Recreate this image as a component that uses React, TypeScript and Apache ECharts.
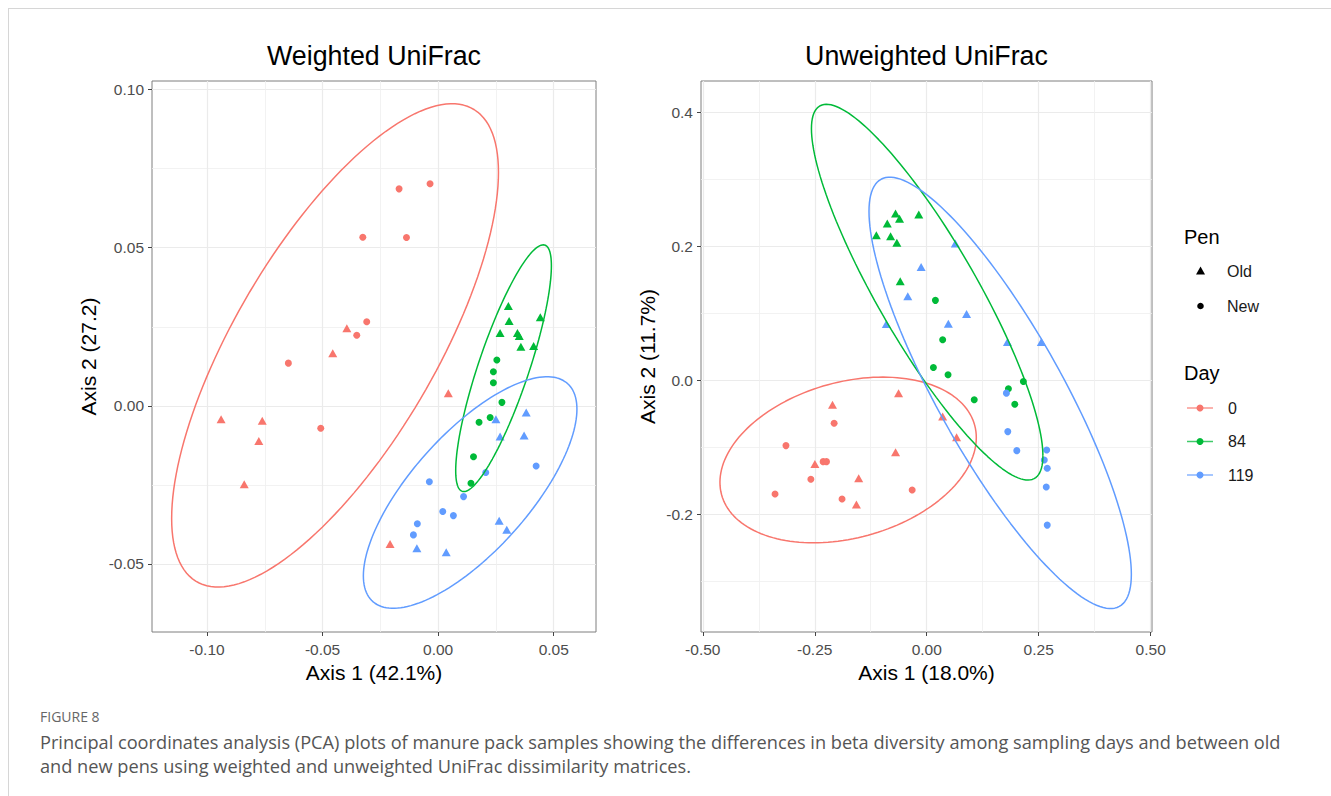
import React, { useEffect, useRef } from "react";
import * as echarts from "echarts";

// ---------- Data ----------
const dayLabels = ["0", "84", "119"];
const penLabels = ["Old", "New"];
const dayColors = ["#F8766D", "#00BA38", "#619CFF"];

// Weighted UniFrac points [Axis1, Axis2]
const w0Old = [[-0.0395, 0.0245], [-0.0456, 0.0166], [-0.0939, -0.0042], [-0.0761, -0.0047], [-0.0776, -0.0111], [-0.0839, -0.0248], [0.0044, 0.004], [-0.0208, -0.0437]];
const w0New = [[-0.0169, 0.0686], [-0.0035, 0.0702], [-0.0326, 0.0533], [-0.0137, 0.0532], [-0.0309, 0.0266], [-0.0352, 0.0223], [-0.0648, 0.0135], [-0.0508, -0.0071]];
const w84Old = [[0.0304, 0.0316], [0.0442, 0.028], [0.0307, 0.0268], [0.0268, 0.023], [0.0343, 0.023], [0.0351, 0.0221], [0.0358, 0.0187], [0.0413, 0.0189]];
const w84New = [[0.0254, 0.0145], [0.0239, 0.0108], [0.0239, 0.0073], [0.0276, 0.0011], [0.0225, -0.0037], [0.0177, -0.0052], [0.0153, -0.0161], [0.0142, -0.0245]];
const w119Old = [[0.025, -0.0042], [0.0381, -0.0021], [0.0268, -0.0097], [0.0372, -0.0094], [0.0264, -0.0363], [0.0297, -0.0392], [-0.0092, -0.045], [0.0035, -0.0463]];
const w119New = [[0.0424, -0.019], [0.0206, -0.0211], [-0.0038, -0.024], [0.011, -0.0287], [0.002, -0.0334], [0.0066, -0.0347], [-0.009, -0.0373], [-0.0107, -0.0408]];

// Unweighted UniFrac points [Axis1, Axis2]
const u0Old = [[-0.2104, -0.0366], [-0.0629, -0.0191], [-0.2498, -0.1248], [-0.1519, -0.1462], [-0.157, -0.1851], [-0.0696, -0.1073], [0.0356, -0.0541], [0.0667, -0.0849]];
const u0New = [[-0.2068, -0.064], [-0.3143, -0.0974], [-0.2313, -0.1213], [-0.2238, -0.1213], [-0.2587, -0.1477], [-0.3387, -0.1697], [-0.1891, -0.1771], [-0.0325, -0.1637]];
const u84Old = [[-0.0696, 0.2489], [-0.0607, 0.241], [-0.0178, 0.2474], [-0.0881, 0.2339], [-0.1125, 0.2165], [-0.0807, 0.215], [-0.0667, 0.2051], [-0.0592, 0.1477]];
const u84New = [[0.0194, 0.1193], [0.0356, 0.0605], [0.0149, 0.0191], [0.0476, 0.0082], [0.1061, -0.0291], [0.2158, -0.0018], [0.1824, -0.0127], [0.1966, -0.0356]];
const u119Old = [[0.0638, 0.204], [-0.0125, 0.1692], [-0.0423, 0.1253], [-0.0903, 0.084], [0.089, 0.099], [0.0483, 0.0845], [0.1802, 0.0571], [0.2558, 0.0571]];
const u119New = [[0.1779, -0.0191], [0.181, -0.0765], [0.2011, -0.1049], [0.2678, -0.1039], [0.2625, -0.1188], [0.2691, -0.1312], [0.2669, -0.1592], [0.2691, -0.216]];

// 95% ellipses: [centerX, centerY, halfWidth, halfHeight, correlation]
const wEllipse0 = [-0.0446, 0.0191, 0.0707, 0.0764, 0.716];
const wEllipse84 = [0.0283, 0.0119, 0.0207, 0.039, 0.83];
const wEllipse119 = [0.01385, -0.0274, 0.0462, 0.0366, 0.72];
const uEllipse0 = [-0.1755, -0.1188, 0.2862, 0.1236, 0.27];
const uEllipse84 = [0.001, 0.1315, 0.2584, 0.2803, -0.87];
const uEllipse119 = [0.164, -0.0187, 0.2929, 0.3218, -0.841];

// Axis ticks
const wXMajor = [-0.1, -0.05, 0, 0.05];
const wXMinor = [-0.075, -0.025, 0.025];
const wYMajor = [-0.05, 0, 0.05, 0.1];
const wYMinor = [-0.025, 0.025, 0.075];
const uXMajor = [-0.5, -0.25, 0, 0.25, 0.5];
const uXMinor = [-0.375, -0.125, 0.125, 0.375];
const uYMajor = [-0.2, 0, 0.2, 0.4];
const uYMinor = [-0.3, -0.1, 0.1, 0.3];

const titles = ["Weighted UniFrac", "Unweighted UniFrac"];
const xNames = ["Axis 1 (42.1%)", "Axis 1 (18.0%)"];
const yNames = ["Axis 2 (27.2)", "Axis 2 (11.7%)"];
const figureLabel = "FIGURE 8";
const captionLines = [
  "Principal coordinates analysis (PCA) plots of manure pack samples showing the differences in beta diversity among sampling days and between old",
  "and new pens using weighted and unweighted UniFrac dissimilarity matrices.",
];

// ---------- Helpers ----------
const FONT = "'Liberation Sans', Arial, Helvetica, sans-serif";
const CAPFONT = "'Open Sans', 'Noto Sans', sans-serif";

function ellipsePoints(p: number[]) {
  const [cx, cy, a, b, r] = p;
  const s = Math.sqrt(1 - r * r);
  const pts: number[][] = [];
  const n = 160;
  for (let k = 0; k <= n; k++) {
    const t = (2 * Math.PI * k) / n;
    pts.push([cx + a * Math.cos(t), cy + b * (r * Math.cos(t) + s * Math.sin(t))]);
  }
  return pts;
}

const GRIDS = [
  { left: 152, top: 81, width: 444, height: 551 },
  { left: 701, top: 81, width: 451, height: 551 },
];

const hiddenLine = { show: false, onZero: false };

function majorX(grid: number, min: number, max: number, ticks: number[], dec: number, name: string) {
  return {
    type: "value", gridIndex: grid, min, max, position: "bottom",
    name, nameLocation: "middle", nameGap: 29,
    nameTextStyle: { fontSize: 21, color: "#000", fontFamily: FONT },
    axisLine: hiddenLine,
    axisTick: { show: true, customValues: ticks, length: 4, lineStyle: { color: "#444", width: 1 } },
    axisLabel: { customValues: ticks, formatter: (v: number) => v.toFixed(dec), margin: 9, fontSize: 15.5, color: "#4D4D4D", fontFamily: FONT },
    splitLine: { show: true, lineStyle: { color: "#EBEBEB", width: 1.2 } },
  };
}
function minorX(grid: number, min: number, max: number, ticks: number[]) {
  return {
    type: "value", gridIndex: grid, min, max, position: "top",
    axisLine: hiddenLine,
    axisTick: { show: false, customValues: ticks },
    axisLabel: { show: false, customValues: ticks },
    splitLine: { show: true, lineStyle: { color: "#EFEFEF", width: 0.8 } },
  };
}
function majorY(grid: number, min: number, max: number, ticks: number[], dec: number, name: string, gap: number) {
  return {
    type: "value", gridIndex: grid, min, max, position: "left",
    name, nameLocation: "middle", nameGap: gap,
    nameTextStyle: { fontSize: 21, color: "#000", fontFamily: FONT },
    axisLine: hiddenLine,
    axisTick: { show: true, customValues: ticks, length: 4, lineStyle: { color: "#444", width: 1 } },
    axisLabel: { customValues: ticks, formatter: (v: number) => v.toFixed(dec), margin: 8, fontSize: 15.5, color: "#4D4D4D", fontFamily: FONT },
    splitLine: { show: true, lineStyle: { color: "#EBEBEB", width: 1.2 } },
  };
}
function minorY(grid: number, min: number, max: number, ticks: number[]) {
  return {
    type: "value", gridIndex: grid, min, max, position: "right",
    axisLine: hiddenLine,
    axisTick: { show: false, customValues: ticks },
    axisLabel: { show: false, customValues: ticks },
    splitLine: { show: true, lineStyle: { color: "#EFEFEF", width: 0.8 } },
  };
}

export default function App() {
  const ref = useRef<HTMLDivElement>(null);

  useEffect(() => {
    if (!ref.current) return;
    const chart = echarts.init(ref.current, null, { renderer: "svg" });

    const panels = [
      { axis: 0, old: [w0Old, w84Old, w119Old], neu: [w0New, w84New, w119New], ell: [wEllipse0, wEllipse84, wEllipse119] },
      { axis: 2, old: [u0Old, u84Old, u119Old], neu: [u0New, u84New, u119New], ell: [uEllipse0, uEllipse84, uEllipse119] },
    ];

    const series: any[] = [];
    panels.forEach((p, pi) => {
      dayLabels.forEach((day, di) => {
        series.push({
          type: "scatter", name: `${titles[pi]} Day ${day} ${penLabels[0]}`,
          xAxisIndex: p.axis, yAxisIndex: p.axis, data: p.old[di],
          symbol: "triangle", symbolSize: [9, 8], itemStyle: { color: dayColors[di], opacity: 1 }, z: 3,
        });
        series.push({
          type: "scatter", name: `${titles[pi]} Day ${day} ${penLabels[1]}`,
          xAxisIndex: p.axis, yAxisIndex: p.axis, data: p.neu[di],
          symbol: "circle", symbolSize: 7, itemStyle: { color: dayColors[di], opacity: 1 }, z: 3,
        });
        series.push({
          type: "line", name: `${titles[pi]} Day ${day} ellipse`,
          xAxisIndex: p.axis, yAxisIndex: p.axis, data: ellipsePoints(p.ell[di]),
          showSymbol: false, symbol: "none", smooth: false, silent: true,
          lineStyle: { color: dayColors[di], width: 1.5 }, z: 4,
        });
      });
    });

    const graphic: any[] = [];
    // frame
    graphic.push({ type: "line", shape: { x1: 8, y1: 8.5, x2: 1331, y2: 8.5 }, style: { stroke: "#D6D6D6", lineWidth: 1 } });
    graphic.push({ type: "line", shape: { x1: 8.5, y1: 8, x2: 8.5, y2: 796 }, style: { stroke: "#D6D6D6", lineWidth: 1 } });
    // titles
    GRIDS.forEach((g, i) => {
      graphic.push({
        type: "text", x: g.left + g.width / 2, y: 56,
        style: { text: titles[i], fontSize: 26.8, fill: "#000", fontFamily: FONT, textAlign: "center", textVerticalAlign: "middle" },
      });
    });
    // legend: Pen
    const lx = 1184;
    graphic.push({ type: "text", x: lx, y: 237, style: { text: "Pen", fontSize: 20, fill: "#000", fontFamily: FONT, textVerticalAlign: "middle" } });
    penLabels.forEach((lab, i) => {
      const cy = 271 + i * 35;
      if (i === 0) {
        graphic.push({ type: "polygon", shape: { points: [[1200.5, cy - 4.5], [1205, cy + 3.5], [1196, cy + 3.5]] }, style: { fill: "#000" } });
      } else {
        graphic.push({ type: "circle", shape: { cx: 1200.5, cy, r: 3.3 }, style: { fill: "#000" } });
      }
      graphic.push({ type: "text", x: 1227, y: cy, style: { text: lab, fontSize: 16, fill: "#1A1A1A", fontFamily: FONT, textVerticalAlign: "middle" } });
    });
    // legend: Day
    graphic.push({ type: "text", x: lx, y: 373, style: { text: "Day", fontSize: 20, fill: "#000", fontFamily: FONT, textVerticalAlign: "middle" } });
    dayLabels.forEach((lab, i) => {
      const cy = 408 + i * 33.5;
      graphic.push({ type: "line", shape: { x1: 1187, y1: cy, x2: 1213, y2: cy }, style: { stroke: dayColors[i], lineWidth: 1.5, opacity: 0.75 } });
      graphic.push({ type: "circle", shape: { cx: 1200, cy, r: 3.5 }, style: { fill: dayColors[i] } });
      graphic.push({ type: "text", x: 1228, y: cy, style: { text: lab, fontSize: 16, fill: "#1A1A1A", fontFamily: FONT, textVerticalAlign: "middle" } });
    });
    // caption
    graphic.push({ type: "text", x: 40, y: 716, style: { text: figureLabel, fontSize: 14, fill: "#666", fontFamily: CAPFONT, textVerticalAlign: "middle" } });
    captionLines.forEach((line, i) => {
      graphic.push({ type: "text", x: 40, y: 742 + i * 24, style: { text: line, fontSize: 18.2, fill: "#555", fontFamily: CAPFONT, textVerticalAlign: "middle" } });
    });

    chart.setOption({
      animation: false,
      backgroundColor: "#fff",
      grid: GRIDS.map((g) => ({ ...g, show: true, borderColor: "#7F7F7F", borderWidth: 1, backgroundColor: "transparent", containLabel: false })),
      xAxis: [
        majorX(0, -0.1238, 0.0683, wXMajor, 2, xNames[0]),
        minorX(0, -0.1238, 0.0683, wXMinor),
        majorX(1, -0.504, 0.503, uXMajor, 2, xNames[1]),
        minorX(1, -0.504, 0.503, uXMinor),
      ],
      yAxis: [
        majorY(0, -0.0715, 0.1027, wYMajor, 2, yNames[0], 53.5),
        minorY(0, -0.0715, 0.1027, wYMinor),
        majorY(1, -0.3755, 0.4466, uYMajor, 1, yNames[1], 43.5),
        minorY(1, -0.3755, 0.4466, uYMinor),
      ],
      series,
      graphic,
    });

    return () => chart.dispose();
  }, []);

  return <div ref={ref} style={{ position: "fixed", left: 0, top: 0, width: 1331, height: 796 }} />;
}
